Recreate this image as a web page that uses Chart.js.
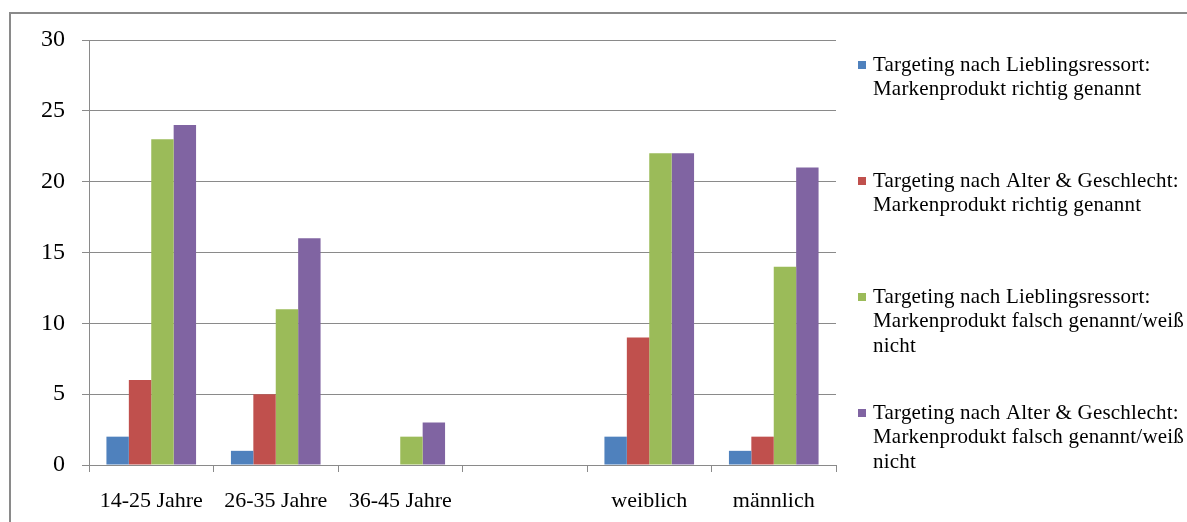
<!DOCTYPE html>
<html>
<head>
<meta charset="utf-8">
<script src="https://cdn.jsdelivr.net/npm/chart.js@4.4.1/dist/chart.umd.min.js"></script>
<style>
html, body { margin: 0; padding: 0; background: #fff; }
</style>
</head>
<body>
<canvas id="grafico" width="1187" height="522"></canvas>
<script>
// Kategorien (die leere Spalte trennt Alter und Geschlecht)
const categorias = ['14-25 Jahre', '26-35 Jahre', '36-45 Jahre', '', 'weiblich', 'männlich']

const ressortRichtig = [2, 1, 0, 0, 2, 1]
const alterRichtig = [6, 5, 0, 0, 9, 2]
const ressortFalsch = [23, 11, 2, 0, 22, 14]
const alterFalsch = [24, 16, 3, 0, 22, 21]

const etiquetas = [
    ['Targeting nach Lieblingsressort:', 'Markenprodukt richtig genannt'],
    ['Targeting nach Alter & Geschlecht:', 'Markenprodukt richtig genannt'],
    ['Targeting nach Lieblingsressort:', 'Markenprodukt falsch genannt/weiß', 'nicht'],
    ['Targeting nach Alter & Geschlecht:', 'Markenprodukt falsch genannt/weiß', 'nicht']
]

const colores = ['#4F81BD', '#C0504D', '#9BBB59', '#8064A2']

const gris = '#8a8a8a'
const fuente = '"Liberation Serif", "Times New Roman", serif'

const series = [ressortRichtig, alterRichtig, ressortFalsch, alterFalsch]

// Rahmen um das ganze Diagramm
const marco = {
    id: 'marco',
    afterDraw: (chart) => {
        const ctx = chart.ctx
        ctx.save()
        ctx.strokeStyle = gris
        ctx.lineWidth = 2
        ctx.strokeRect(10, 13, 1300, 600)
        ctx.restore()
    }
}

// Legende rechts mit mehrzeiligen Texten
const leyenda = {
    id: 'leyenda',
    afterDraw: (chart) => {
        const ctx = chart.ctx
        const x0 = chart.chartArea.right + 22
        ctx.save()
        ctx.font = '21px ' + fuente
        ctx.letterSpacing = '0.2px'
        ctx.textBaseline = 'middle'
        ctx.textAlign = 'left'
        chart.data.datasets.forEach((ds, i) => {
            const y0 = 65 + i * 116
            ctx.fillStyle = ds.backgroundColor
            ctx.fillRect(x0, y0 - 4, 8, 8)
            ctx.fillStyle = '#000'
            ds.lineas.forEach((txt, j) => {
                ctx.fillText(txt, x0 + 15, y0 + j * 24.5)
            })
        })
        ctx.restore()
    }
}

new Chart(document.getElementById('grafico'), {
    type: 'bar',
    data: {
        labels: categorias,
        datasets: series.map((data, i) => ({
            label: etiquetas[i].join(' '),
            lineas: etiquetas[i],
            data,
            backgroundColor: colores[i],
            borderWidth: 0,
            categoryPercentage: 0.72,
            barPercentage: 1
        }))
    },
    plugins: [marco, leyenda],
    options: {
        responsive: false,
        animation: false,
        devicePixelRatio: 1,
        layout: { padding: { top: 40, right: 351, bottom: 0, left: 0 } },
        plugins: {
            legend: { display: false },
            tooltip: { enabled: false }
        },
        scales: {
            x: {
                afterFit: (s) => { s.height = 57 },
                grid: {
                    drawOnChartArea: false,
                    color: gris,
                    tickLength: 7
                },
                border: { color: gris },
                ticks: {
                    color: '#000',
                    padding: 16,
                    maxRotation: 0,
                    font: { family: fuente, size: 22 }
                }
            },
            y: {
                min: 0,
                max: 30,
                afterFit: (s) => { s.width = 89 },
                grid: {
                    color: gris,
                    tickLength: 7
                },
                border: { color: gris },
                ticks: {
                    stepSize: 5,
                    color: '#000',
                    padding: 17,
                    font: { family: fuente, size: 24 }
                }
            }
        }
    }
})
</script>
</body>
</html>
